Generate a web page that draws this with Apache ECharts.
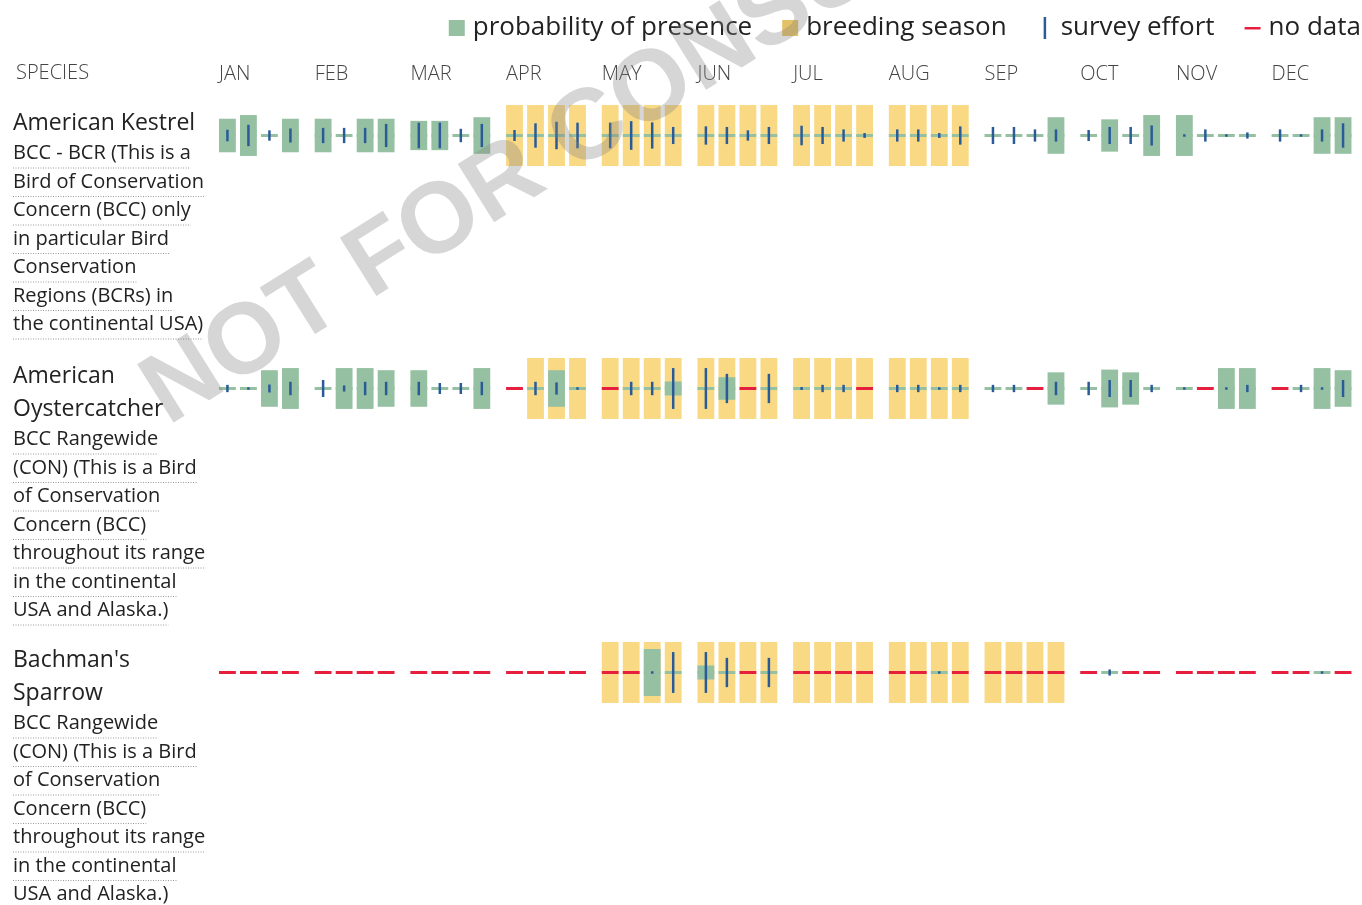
<!DOCTYPE html>
<html>
<head>
<meta charset="utf-8">
<title>Species presence by week</title>
<script src="https://cdn.jsdelivr.net/npm/echarts@6/dist/echarts.min.js"></script>
<style>
html, body { margin: 0; padding: 0; background: #fff; }
#chart { width: 1362px; height: 905px; }
</style>
</head>
<body>
<div id="chart"></div>
<script>
// 月份标签
var months = ['JAN', 'FEB', 'MAR', 'APR', 'MAY', 'JUN', 'JUL', 'AUG', 'SEP', 'OCT', 'NOV', 'DEC'];

var legendNames = ['probability of presence', 'breeding season', 'survey effort', 'no data'];

var speciesNames = [
    ['American Kestrel'],
    ['American', 'Oystercatcher'],
    ["Bachman's", 'Sparrow']
];
var speciesNotes = [
    ['BCC - BCR (This is a', 'Bird of Conservation', 'Concern (BCC) only', 'in particular Bird',
     'Conservation', 'Regions (BCRs) in', 'the continental USA)'],
    ['BCC Rangewide', '(CON) (This is a Bird', 'of Conservation', 'Concern (BCC)',
     'throughout its range', 'in the continental', 'USA and Alaska.)'],
    ['BCC Rangewide', '(CON) (This is a Bird', 'of Conservation', 'Concern (BCC)',
     'throughout its range', 'in the continental', 'USA and Alaska.)']
];

// 4 weeks per month, 48 values. presence 0..1, effort 0..1 (null = no data)
var kestrelPresence = [
    .55, .67, 0, .55,   .55, 0, .55, .55,   .48, .48, 0, .6,   0, 0, 0, 0,
    0, 0, 0, 0,         0, 0, 0, 0,         0, 0, 0, 0,        0, 0, 0, 0,
    0, 0, 0, .6,        0, .53, 0, .67,     .67, 0, 0, 0,      0, 0, .6, .6
];
var kestrelEffort = [
    .19, .35, .17, .23,  .25, .25, .25, .38,  .42, .42, .22, .38,  .18, .4, .45, .42,
    .42, .47, .43, .28,  .3, .28, .17, .28,   .32, .28, .2, .08,   .2, .2, .08, .3,
    .28, .28, .2, .2,    .18, .28, .28, .33,  .04, .2, .04, .1,    .2, .04, .2, .4
];
var kestrelBreeding = [12, 31];

var oysterPresence = [
    0, 0, .6, .67,     0, .67, .67, .6,   .6, 0, 0, .67,    0, 0, .6, 0,
    0, 0, 0, .23,      0, .37, 0, 0,      0, 0, 0, 0,       0, 0, 0, 0,
    0, 0, 0, .53,      0, .62, .53, 0,    0, 0, .67, .67,   0, 0, .67, .6
];
var oysterEffort = [
    .12, .04, .13, .22,   .28, .1, .22, .22,    .22, .18, .18, .22,   null, .22, .2, .04,
    null, .22, .22, .67,  .67, .48, null, .48,  .05, .12, .12, null,  .12, .12, .04, .12,
    .12, .12, null, .22,  .22, .28, .28, .12,   .04, null, .04, .12,  null, .12, .04, .28
];
var oysterBreeding = [13, 31];

var sparrowPresence = [
    0, 0, 0, 0,      0, 0, 0, 0,     0, 0, 0, 0,     0, 0, 0, 0,
    0, 0, .77, 0,    .23, 0, 0, 0,   0, 0, 0, 0,     0, 0, 0, 0,
    0, 0, 0, 0,      0, 0, 0, 0,     0, 0, 0, 0,     0, 0, 0, 0
];
var sparrowEffort = [
    null, null, null, null,  null, null, null, null,  null, null, null, null,  null, null, null, null,
    null, null, .04, .67,    .67, .48, null, .48,     null, null, null, null,  null, null, .04, null,
    null, null, null, null,  null, .1, null, null,    null, null, null, null,  null, null, .04, null
];
var sparrowBreeding = [16, 35];

var rows = [
    { presence: kestrelPresence, effort: kestrelEffort, breeding: kestrelBreeding },
    { presence: oysterPresence, effort: oysterEffort, breeding: oysterBreeding },
    { presence: sparrowPresence, effort: sparrowEffort, breeding: sparrowBreeding }
];

/**
 * 布局
 */
var COLORS = {
    presence: '#95c1a2',
    breeding: '#fad984',
    effort: '#2a5b98',
    nodata: '#e61f3f'
};
var ROW_CENTER = [135.5, 388.5, 672.5];
var ROW_NAME_Y = [123.5, 376.5, 660.5];
var CELL_STEP = 0.2195, CELL_W = 0.176;
var X_MAX = 11.84;
var FONT = '"Open Sans", "DejaVu Sans", sans-serif';

function cellPos(api, week) {
    var m = Math.floor(week / 4), k = week % 4;
    return {
        x: api.coord([m + k * CELL_STEP, 0])[0],
        w: api.size([CELL_W, 0])[0]
    };
}

function renderBreeding(params, api) {
    var c = cellPos(api, api.value(0));
    var top = api.coord([0, 0.5])[1], bot = api.coord([0, -0.5])[1];
    return { type: 'rect', shape: { x: c.x, y: top, width: c.w, height: bot - top },
             style: { fill: COLORS.breeding } };
}

function renderPresence(params, api) {
    var c = cellPos(api, api.value(0));
    var p = api.value(1);
    var mid = api.coord([0, 0])[1];
    var children = [{ type: 'rect', shape: { x: c.x, y: mid - 1.5, width: c.w, height: 3 },
                      style: { fill: COLORS.presence } }];
    if (p > 0) {
        var t = api.coord([0, p / 2])[1], b = api.coord([0, -p / 2])[1];
        children.push({ type: 'rect', shape: { x: c.x, y: t, width: c.w, height: b - t },
                        style: { fill: COLORS.presence } });
    }
    return { type: 'group', children: children };
}

function renderEffort(params, api) {
    var c = cellPos(api, api.value(0));
    var e = api.value(1);
    var t = api.coord([0, e / 2])[1], b = api.coord([0, -e / 2])[1];
    if (b - t < 2.5) { var mm = (t + b) / 2; t = mm - 1.25; b = mm + 1.25; }
    var cx = c.x + c.w / 2;
    return { type: 'rect', shape: { x: cx - 1.25, y: t, width: 2.5, height: b - t },
             style: { fill: COLORS.effort } };
}

function renderNoData(params, api) {
    var c = cellPos(api, api.value(0));
    var mid = api.coord([0, 0])[1];
    return { type: 'rect', shape: { x: c.x, y: mid - 1.5, width: c.w, height: 3 },
             style: { fill: COLORS.nodata } };
}

var grids = [], xAxes = [], yAxes = [], series = [];

rows.forEach(function (row, r) {
    grids.push({ left: 219, width: 1133, top: ROW_CENTER[r] - 30.5, height: 61 });
    xAxes.push({
        gridIndex: r, type: 'value', min: 0, max: X_MAX, interval: 1,
        position: 'top', show: r === 0,
        axisLine: { show: false }, axisTick: { show: false }, splitLine: { show: false },
        axisLabel: {
            show: r === 0, align: 'left', margin: 21, showMaxLabel: false,
            fontSize: 20, color: '#444', fontFamily: FONT, fontWeight: 300,
            formatter: function (v) { return months[v] || ''; }
        }
    });
    yAxes.push({ gridIndex: r, type: 'value', min: -0.5, max: 0.5, show: false });

    var breedData = [], presData = [], effData = [], ndData = [];
    for (var w = 0; w < 48; w++) {
        if (w >= row.breeding[0] && w <= row.breeding[1]) breedData.push([w, 1]);
        if (row.effort[w] === null) {
            ndData.push([w, 0]);
        } else {
            presData.push([w, row.presence[w]]);
            effData.push([w, row.effort[w]]);
        }
    }
    var base = { type: 'custom', xAxisIndex: r, yAxisIndex: r, silent: true };
    series.push(Object.assign({}, base, { name: legendNames[1], renderItem: renderBreeding,
        itemStyle: { color: COLORS.breeding }, data: breedData, z: 1 }));
    series.push(Object.assign({}, base, { name: legendNames[0], renderItem: renderPresence,
        itemStyle: { color: COLORS.presence }, data: presData, z: 2 }));
    series.push(Object.assign({}, base, { name: legendNames[2], renderItem: renderEffort,
        itemStyle: { color: COLORS.effort }, data: effData, z: 3 }));
    series.push(Object.assign({}, base, { name: legendNames[3], renderItem: renderNoData,
        itemStyle: { color: COLORS.nodata }, data: ndData, z: 3 }));
});

// 文字宽度测量
var measureCtx = document.createElement('canvas').getContext('2d');
function textWidth(t, font) {
    measureCtx.font = font;
    return measureCtx.measureText(t).width;
}

var graphics = [{
    type: 'text', x: 16, y: 73.5,
    style: { text: 'SPECIES', font: '300 20px ' + FONT, fill: '#444', verticalAlign: 'middle' }
}];

speciesNames.forEach(function (lines, r) {
    var y = ROW_NAME_Y[r];
    lines.forEach(function (t, i) {
        graphics.push({ type: 'text', x: 13, y: y + i * 33,
            style: { text: t, font: '23px ' + FONT, fill: '#222', verticalAlign: 'middle' } });
    });
    var y2 = y + (lines.length - 1) * 33 + 30;
    var noteFont = '20px ' + FONT;
    speciesNotes[r].forEach(function (t, i) {
        var yy = y2 + i * 28.5;
        graphics.push({ type: 'text', x: 13, y: yy,
            style: { text: t, font: noteFont, fill: '#222', verticalAlign: 'middle' } });
        graphics.push({ type: 'line',
            shape: { x1: 13, y1: yy + 14.5, x2: 13 + textWidth(t, noteFont), y2: yy + 14.5 },
            style: { stroke: '#999', lineWidth: 1, lineDash: [1, 1.5] } });
    });
});

// 水印
graphics.push({
    type: 'text', x: 180, y: 445, rotation: 32 * Math.PI / 180, z: 100,
    style: {
        text: 'NOT FOR CONSULTATION', font: 'bold 100px "Liberation Sans", sans-serif',
        fill: 'rgba(130,130,130,0.33)', verticalAlign: 'bottom',
        shadowBlur: 5, shadowColor: 'rgba(0,0,0,0.3)'
    }
});

var myChart = echarts.init(document.getElementById('chart'));
var option = {
    animation: false,
    backgroundColor: '#fff',
    legend: {
        top: 10, right: -4, itemGap: 30, itemWidth: 16, itemHeight: 22, selectedMode: false,
        textStyle: { fontSize: 26, color: '#222', fontFamily: FONT, padding: [0, 0, 0, 3] },
        data: [
            { name: legendNames[0], icon: 'path://M0 0 M16 22 M0 3 H16 V19 H0 Z' },
            { name: legendNames[1], icon: 'path://M0 0 M16 22 M0 3 H16 V19 H0 Z',
              itemStyle: { color: '#e4c166' } },
            { name: legendNames[2], icon: 'path://M0 0 M16 22 M7 0 H9.5 V22 H7 Z' },
            { name: legendNames[3], icon: 'path://M0 0 M16 22 M0 10 H16 V12.5 H0 Z' }
        ]
    },
    grid: grids,
    xAxis: xAxes,
    yAxis: yAxes,
    series: series,
    graphic: graphics
};
myChart.setOption(option);
</script>
</body>
</html>
